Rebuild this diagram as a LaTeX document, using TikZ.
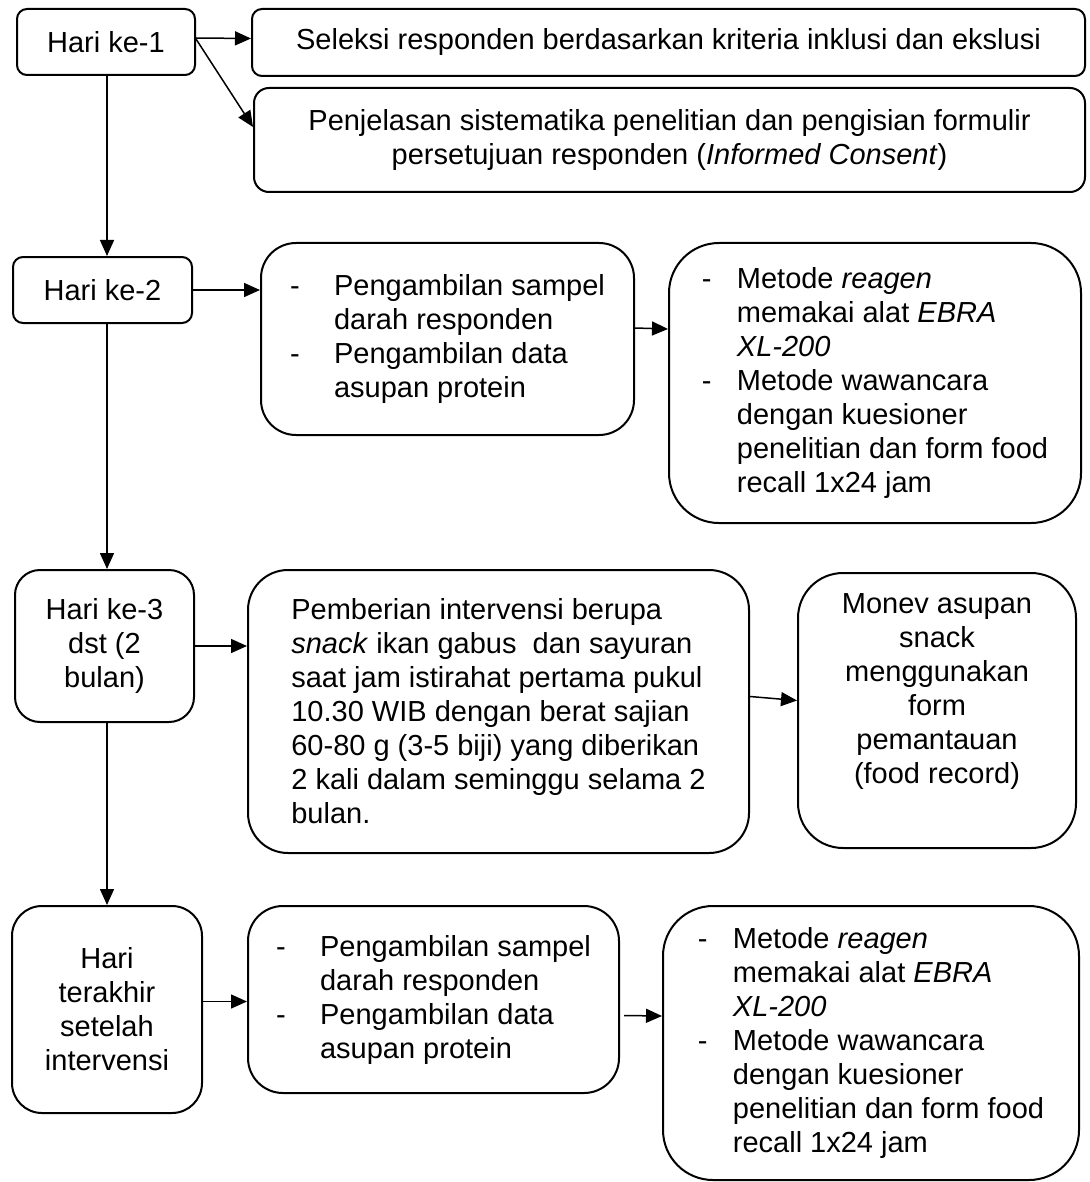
\documentclass[tikz,border=0pt]{standalone}
\usepackage{fontspec}
\setmainfont{Liberation Sans}
\usetikzlibrary{arrows.meta}

\tikzset{
  dayBox/.style={draw, line width=2pt, rectangle, anchor=north west, align=center,
    inner sep=0pt, font=\fontsize{29}{34}\selectfont},
  infoBox/.style={dayBox},
  flowArrow/.style={line width=1.5pt, -{Triangle[length=16pt,width=14pt]}}
}
\newcommand{\dashItem}[1]{\makebox[#1][l]{-}}

\begin{document}
\begin{tikzpicture}[x=1pt,y=-1pt]
\useasboundingbox (0,0) rectangle (1089,1182);

% hari ke-1
\node[dayBox, rounded corners=10pt, minimum width=178pt, minimum height=66pt] (hari1) at (16,8) {Hari ke-1};
\node[infoBox, rounded corners=10pt, minimum width=833pt, minimum height=67pt] (seleksi) at (251,8)
  {Seleksi responden berdasarkan kriteria inklusi dan ekslusi};
\node[infoBox, rounded corners=15pt, minimum width=831pt, minimum height=104pt] (jelas) at (253,87)
  {Penjelasan sistematika penelitian dan pengisian formulir\\ persetujuan responden (\textit{Informed Consent})};

% hari ke-2
\node[dayBox, rounded corners=10pt, minimum width=179pt, minimum height=66pt] (hari2) at (12,256) {Hari ke-2};
\node[infoBox, align=left, rounded corners=35pt, minimum width=373pt, minimum height=192pt] (ambil1) at (260,242)
  {\dashItem{44pt}Pengambilan sampel\\ \hspace*{44pt}darah responden\\
   \dashItem{44pt}Pengambilan data\\ \hspace*{44pt}asupan protein};
\node[infoBox, align=left, rounded corners=50pt, minimum width=412pt, minimum height=280pt] (metode1) at (668,242)
  {\dashItem{35pt}Metode \textit{reagen}\\ \hspace*{35pt}memakai alat \textit{EBRA}\\ \hspace*{35pt}\textit{XL-200}\\
   \dashItem{35pt}Metode wawancara\\ \hspace*{35pt}dengan kuesioner\\
   \hspace*{35pt}penelitian dan form food\\ \hspace*{35pt}recall 1x24 jam};

% hari ke-3
\node[dayBox, rounded corners=25pt, minimum width=179pt, minimum height=152pt] (hari3) at (14,569)
  {Hari ke-3\\ dst (2\\ bulan)};
\node[infoBox, align=left, rounded corners=40pt, minimum width=501pt, minimum height=283pt] (intervensi) at (247,569)
  {Pemberian intervensi berupa\\ \textit{snack} ikan gabus\ \ dan sayuran\\ saat jam istirahat pertama pukul\\
   10.30 WIB dengan berat sajian\\ 60-80 g (3-5 biji) yang diberikan\\ 2 kali dalam seminggu selama 2\\ bulan.};
\node[infoBox, rounded corners=45pt, minimum width=278pt, minimum height=275pt] (monev) at (797,572)
  {Monev asupan\\ snack\\ menggunakan\\ form\\ pemantauan\\ (food record)\\ \strut};

% hari terakhir
\node[dayBox, rounded corners=30pt, minimum width=190pt, minimum height=207pt] (hariAkhir) at (11,905)
  {Hari\\ terakhir\\ setelah\\ intervensi};
\node[infoBox, align=left, rounded corners=35pt, minimum width=371pt, minimum height=187pt] (ambil2) at (247,905)
  {\dashItem{44pt}Pengambilan sampel\\ \hspace*{44pt}darah responden\\
   \dashItem{44pt}Pengambilan data\\ \hspace*{44pt}asupan protein};
\node[infoBox, align=left, rounded corners=50pt, minimum width=416pt, minimum height=274pt] (metode2) at (662,905)
  {\dashItem{35pt}Metode \textit{reagen}\\ \hspace*{35pt}memakai alat \textit{EBRA}\\ \hspace*{35pt}\textit{XL-200}\\
   \dashItem{35pt}Metode wawancara\\ \hspace*{35pt}dengan kuesioner\\
   \hspace*{35pt}penelitian dan form food\\ \hspace*{35pt}recall 1x24 jam};

% panah
\draw[flowArrow] ([yshift=4pt]hari1.east) -- ([yshift=4pt]seleksi.west);
\draw[flowArrow] ([yshift=3pt]hari1.east) -- ([yshift=13pt]jelas.west);
\draw[flowArrow] ([xshift=1pt]hari1.south) -- ([xshift=1pt]hari1.south |- hari2.north);
\draw[flowArrow] (hari2.east) -- (hari2.east -| ambil1.west);
\draw[flowArrow] ([yshift=11pt]ambil1.east) -- ([yshift=54pt]metode1.west);
\draw[flowArrow] ([xshift=1pt]hari1.south |- hari2.south) -- ([xshift=1pt]hari1.south |- hari3.north);
\draw[flowArrow] (hari3.east) -- (hari3.east -| intervensi.west);
\draw[flowArrow] ([yshift=15pt]intervensi.east) -- ([yshift=10pt]monev.west);
\draw[flowArrow] ([xshift=1pt]hari1.south |- hari3.south) -- ([xshift=1pt]hari1.south |- hariAkhir.north);
\draw[flowArrow] ([yshift=8pt]hariAkhir.east) -- ([yshift=-2pt]ambil2.west);
\draw[flowArrow] ([xshift=4pt,yshift=-16pt]ambil2.east) -- ([yshift=27pt]metode2.west);

\end{tikzpicture}
\end{document}
